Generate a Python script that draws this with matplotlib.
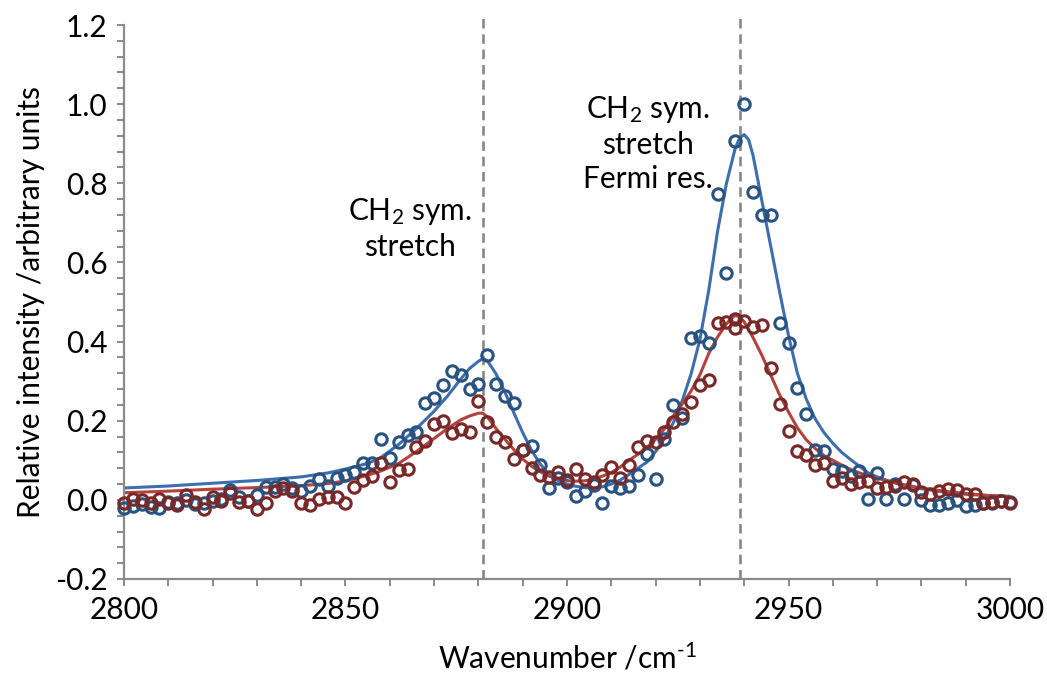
import numpy as np
import matplotlib
matplotlib.use("Agg")
import matplotlib.pyplot as plt

plt.rcParams['font.family'] = ['Lato', 'DejaVu Sans']
plt.rcParams['mathtext.fontset'] = 'custom'
plt.rcParams['mathtext.rm'] = 'Lato'
plt.rcParams['mathtext.default'] = 'regular'

# MEASURED SPECTRA (every 2 cm-1)

wavenumber = np.arange(2800, 3001, 2)

blue_pts = [
    -0.020, -0.015, -0.010, -0.018, -0.020, -0.005, -0.008, 0.000, -0.010, -0.008,
    -0.003, 0.002, 0.025, 0.008, -0.003, 0.013, 0.033, 0.033, 0.041, 0.029,
    0.022, 0.035, 0.052, 0.035, 0.054, 0.062, 0.071, 0.094, 0.092, 0.155,
    0.106, 0.147, 0.164, 0.172, 0.244, 0.258, 0.290, 0.326, 0.316, 0.280,
    0.292, 0.365, 0.294, 0.263, 0.246, 0.125, 0.137, 0.088, 0.030, 0.054,
    0.045, 0.010, 0.022, 0.037, -0.007, 0.035, 0.029, 0.035, 0.062, 0.117,
    0.052, 0.155, 0.240, 0.206, 0.408, 0.413, 0.396, 0.773, 0.573, 0.908,
    1.001, 0.778, 0.719, 0.721, 0.446, 0.396, 0.282, 0.216, 0.127, 0.123,
    0.078, 0.073, 0.060, 0.072, 0.003, 0.067, 0.003, 0.040, 0.003, 0.037,
    -0.001, -0.012, -0.012, -0.007, -0.001, -0.015, -0.013, -0.009, -0.007, -0.004,
    -0.006,
]

red_pts = [
    -0.008, 0.002, 0.000, -0.009, 0.002, -0.009, -0.012, 0.013, -0.005, -0.022,
    0.008, -0.003, 0.018, -0.005, -0.003, -0.022, -0.009, 0.022, 0.029, 0.022,
    -0.008, -0.013, 0.003, 0.008, 0.006, -0.009, 0.033, 0.050, 0.061, 0.094,
    0.046, 0.075, 0.079, 0.134, 0.149, 0.192, 0.199, 0.170, 0.179, 0.172,
    0.250, 0.197, 0.159, 0.147, 0.103, 0.126, 0.081, 0.064, 0.058, 0.071,
    0.050, 0.079, 0.052, 0.046, 0.064, 0.084, 0.054, 0.088, 0.134, 0.149,
    0.147, 0.172, 0.196, 0.216, 0.248, 0.289, 0.303, 0.446, 0.449, 0.457,
    0.451, 0.438, 0.441, 0.334, 0.241, 0.174, 0.123, 0.114, 0.089, 0.092,
    0.047, 0.054, 0.039, 0.046, 0.047, 0.030, 0.033, 0.035, 0.046, 0.041,
    0.020, 0.016, 0.022, 0.027, 0.025, 0.016, 0.016, -0.007, -0.005, -0.003,
    -0.009,
]
# second reading recorded at 2938 cm-1
red_x = np.insert(wavenumber, 70, 2938)
red_pts.insert(70, 0.435)

# FITTED CURVES

blue_fit_x = [2800, 2810, 2820, 2830, 2840, 2846, 2850, 2855, 2858, 2862, 2866, 2870,
              2873, 2876, 2878, 2880, 2881, 2882, 2884, 2886, 2888, 2890, 2892, 2894,
              2896, 2898, 2901, 2904, 2906, 2908, 2910, 2912, 2914, 2916, 2918, 2920,
              2922, 2924, 2926, 2928, 2930, 2932, 2934, 2936, 2938, 2939, 2940, 2941,
              2942, 2944, 2946, 2948, 2950, 2952, 2954, 2956, 2958, 2960, 2962, 2964,
              2966, 2968, 2970, 2972, 2975, 2980, 2985, 2990, 2995, 3000]
blue_fit_y = [0.030, 0.035, 0.042, 0.049, 0.058, 0.068, 0.078, 0.092, 0.107, 0.140, 0.180, 0.224,
              0.262, 0.305, 0.332, 0.350, 0.357, 0.352, 0.318, 0.272, 0.220, 0.170, 0.125, 0.090,
              0.064, 0.048, 0.036, 0.031, 0.030, 0.033, 0.040, 0.050, 0.064, 0.080, 0.095, 0.122,
              0.155, 0.195, 0.250, 0.318, 0.405, 0.530, 0.680, 0.800, 0.890, 0.915, 0.923, 0.910,
              0.870, 0.755, 0.640, 0.525, 0.415, 0.320, 0.255, 0.205, 0.170, 0.143, 0.120, 0.102,
              0.085, 0.068, 0.058, 0.050, 0.040, 0.028, 0.020, 0.014, 0.011, 0.009]

red_fit_x = [2800, 2810, 2820, 2830, 2840, 2846, 2850, 2855, 2858, 2862, 2866, 2870,
             2873, 2876, 2878, 2880, 2881, 2882, 2884, 2886, 2888, 2890, 2892, 2894,
             2896, 2898, 2901, 2904, 2906, 2908, 2910, 2912, 2914, 2916, 2918, 2920,
             2922, 2924, 2926, 2928, 2930, 2932, 2934, 2936, 2937, 2938, 2939, 2940,
             2942, 2944, 2946, 2948, 2950, 2952, 2954, 2956, 2958, 2960, 2963, 2966,
             2970, 2975, 2980, 2985, 2990, 2995, 3000]
red_fit_y = [0.018, 0.022, 0.027, 0.031, 0.036, 0.041, 0.048, 0.062, 0.073, 0.092, 0.122, 0.155,
             0.180, 0.202, 0.212, 0.219, 0.219, 0.210, 0.180, 0.153, 0.127, 0.103, 0.085, 0.071,
             0.060, 0.053, 0.047, 0.048, 0.053, 0.060, 0.069, 0.083, 0.100, 0.115, 0.132, 0.153,
             0.180, 0.212, 0.242, 0.275, 0.316, 0.370, 0.412, 0.445, 0.458, 0.466, 0.462, 0.450,
             0.410, 0.365, 0.315, 0.265, 0.222, 0.182, 0.152, 0.130, 0.112, 0.100, 0.082, 0.068,
             0.055, 0.040, 0.030, 0.022, 0.016, 0.011, 0.008]

peak_positions = [2881, 2939]
peak_labels = ['CH$_2$ sym.\nstretch', 'CH$_2$ sym.\nstretch\nFermi res.']
label_xy = [(2864.5, 0.685), (2918.3, 0.900)]

# COLOURS

blue_marker = '#28527f'
red_marker = '#782826'
blue_line = '#3d6fae'
red_line = '#b3413e'
axis_grey = '#8a8a8a'

fig = plt.figure(figsize=(10.47, 6.76), dpi=100)
ax = fig.add_axes([0.1184, 0.1435, 0.8463, 0.8195])

ax.plot(blue_fit_x, blue_fit_y, color=blue_line, lw=2.2, zorder=2)
ax.plot(red_fit_x, red_fit_y, color=red_line, lw=2.2, zorder=2)

ax.plot(wavenumber, blue_pts, 'o', ms=8.2, mfc='none', mec=blue_marker, mew=2.2,
        zorder=3, clip_on=False)
ax.plot(red_x, red_pts, 'o', ms=8.2, mfc='none', mec=red_marker, mew=2.2,
        zorder=4, clip_on=False)

for xp in peak_positions:
    ax.axvline(xp, ymin=0, ymax=1.022, color='#878787', lw=1.9,
               dashes=(3.6, 2.2), clip_on=False, zorder=1)

for txt, (tx, ty) in zip(peak_labels, label_xy):
    ax.text(tx, ty, txt, ha='center', va='center', multialignment='center',
            fontsize=21.5, linespacing=1.25, color='black')

ax.set_xlim(2800, 3000)
ax.set_ylim(-0.2, 1.2)
ax.set_xticks(np.arange(2800, 3001, 50))
ax.set_xticks(np.arange(2800, 3001, 10), minor=True)
ax.set_yticks(np.arange(-0.2, 1.21, 0.2))
ax.set_yticks(np.arange(-0.2, 1.21, 0.04), minor=True)
ax.yaxis.set_major_formatter(matplotlib.ticker.FormatStrFormatter('%.1f'))

for side in ['top', 'right']:
    ax.spines[side].set_visible(False)
for side in ['left', 'bottom']:
    ax.spines[side].set_color(axis_grey)
    ax.spines[side].set_linewidth(1.6)

ax.tick_params(which='both', direction='out', length=5, width=1.4, color=axis_grey,
               labelsize=21.5, pad=7)

ax.set_xlabel(r'Wavenumber /cm$^{\text{-}1}$', fontsize=21.5, labelpad=13)
ax.set_ylabel('Relative intensity /arbitrary units', fontsize=21.5, labelpad=7)

fig.savefig('out.png', dpi=100)
